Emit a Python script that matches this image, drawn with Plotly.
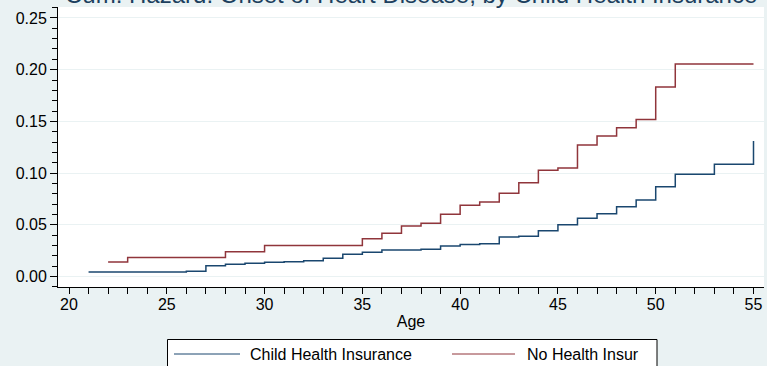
import plotly.graph_objects as go

# Cumulative hazard step estimates by age
ages_child = [21, 26, 27, 28, 29, 30, 31, 32, 33, 34, 35, 36, 38, 39, 40, 41,
              42, 43, 44, 45, 46, 47, 48, 49, 50, 51, 53, 55]
hazard_child = [0.0042, 0.0050, 0.0104, 0.0118, 0.0128, 0.0137, 0.0143, 0.0153,
                0.0176, 0.0215, 0.0234, 0.0256, 0.0263, 0.0295, 0.0308, 0.0317,
                0.0382, 0.0389, 0.0443, 0.0501, 0.0563, 0.0607, 0.0675, 0.0740,
                0.0868, 0.0988, 0.1085, 0.1310]

ages_none = [22, 23, 28, 30, 35, 36, 37, 38, 39, 40, 41, 42, 43, 44, 45, 46,
             47, 48, 49, 50, 51, 55]
hazard_none = [0.0140, 0.0184, 0.0238, 0.0300, 0.0364, 0.0418, 0.0487, 0.0515,
               0.0602, 0.0689, 0.0720, 0.0805, 0.0907, 0.1027, 0.1048, 0.1272,
               0.1358, 0.1439, 0.1517, 0.1833, 0.2055, 0.2055]

series_names = ["Child Health Insurance", "No Health Insur"]
x_ticks = [20, 25, 30, 35, 40, 45, 50, 55]
y_ticks = [0.00, 0.05, 0.10, 0.15, 0.20, 0.25]

NAVY = "#1a476f"
MAROON = "#90353b"
BG = "#eaf2f3"
FONT = "Liberation Sans, Arial, sans-serif"

W, H = 767, 366
M_L, M_R, M_T, M_B = 58, 3, 7, 79
PW, PH = W - M_L - M_R, H - M_T - M_B


def px_x(p):
    return (p - M_L) / PW


def px_y(p):
    return (H - M_B - p) / PH


fig = go.Figure()
fig.add_trace(go.Scatter(x=ages_child, y=hazard_child, mode="lines",
                         name=series_names[0],
                         line=dict(shape="hv", color=NAVY, width=1.5)))
fig.add_trace(go.Scatter(x=ages_none, y=hazard_none, mode="lines",
                         name=series_names[1],
                         line=dict(shape="hv", color=MAROON, width=1.5)))

# legend box drawn below the x-axis title
shapes = [
    dict(type="rect", xref="paper", yref="paper",
         x0=px_x(167.5), x1=px_x(657), y0=px_y(420), y1=px_y(339.5),
         line=dict(color="black", width=1), fillcolor="white", layer="below"),
    dict(type="line", xref="paper", yref="paper",
         x0=px_x(174), x1=px_x(240), y0=px_y(354), y1=px_y(354),
         line=dict(color=NAVY, width=1)),
    dict(type="line", xref="paper", yref="paper",
         x0=px_x(452), x1=px_x(515), y0=px_y(354), y1=px_y(354),
         line=dict(color=MAROON, width=1)),
]

annotations = [
    dict(text="Cum. Hazard: Onset of Heart Disease, by Child Health Insurance",
         xref="paper", yref="paper", x=0.5, y=px_y(10), xanchor="center",
         yanchor="bottom", showarrow=False,
         font=dict(family=FONT, size=24, color="#1c3f5e")),
    dict(text=series_names[0], xref="paper", yref="paper", x=px_x(248),
         y=px_y(354), xanchor="left", yanchor="middle", showarrow=False,
         font=dict(family=FONT, size=16, color="black")),
    dict(text=series_names[1], xref="paper", yref="paper", x=px_x(525),
         y=px_y(354), xanchor="left", yanchor="middle", showarrow=False,
         font=dict(family=FONT, size=16, color="black")),
]

fig.update_layout(
    width=W, height=H,
    margin=dict(l=M_L, r=M_R, t=M_T, b=M_B, pad=0),
    paper_bgcolor=BG, plot_bgcolor="white",
    showlegend=False,
    font=dict(family=FONT, size=16, color="black"),
    shapes=shapes, annotations=annotations,
)

fig.update_xaxes(
    range=[19.4375, 55.537], tickvals=x_ticks, ticktext=[str(v) for v in x_ticks],
    ticks="outside", ticklen=6, tickwidth=1, tickcolor="black",
    ticklabelstandoff=-3,
    minor=dict(dtick=1, tick0=20, ticks="outside", ticklen=6, tickcolor="black",
               showgrid=False),
    showline=True, linecolor="black", linewidth=1, mirror=False,
    showgrid=False, zeroline=False,
    title=dict(text="Age", standoff=3, font=dict(size=16)),
    tickfont=dict(size=16),
)

fig.update_yaxes(
    range=[-0.0102, 0.2606], tickvals=y_ticks,
    ticktext=[f"{v:.2f}" for v in y_ticks],
    ticks="outside", ticklen=7, tickwidth=1, tickcolor="black",
    minor=dict(dtick=0.01, tick0=0, ticks="outside", ticklen=5,
               tickcolor="black", showgrid=False),
    showline=True, linecolor="black", linewidth=1,
    showgrid=True, gridcolor=BG, gridwidth=1, zeroline=False,
    tickfont=dict(size=16),
)

fig.write_html("out.html", config=dict(displayModeBar=False))
